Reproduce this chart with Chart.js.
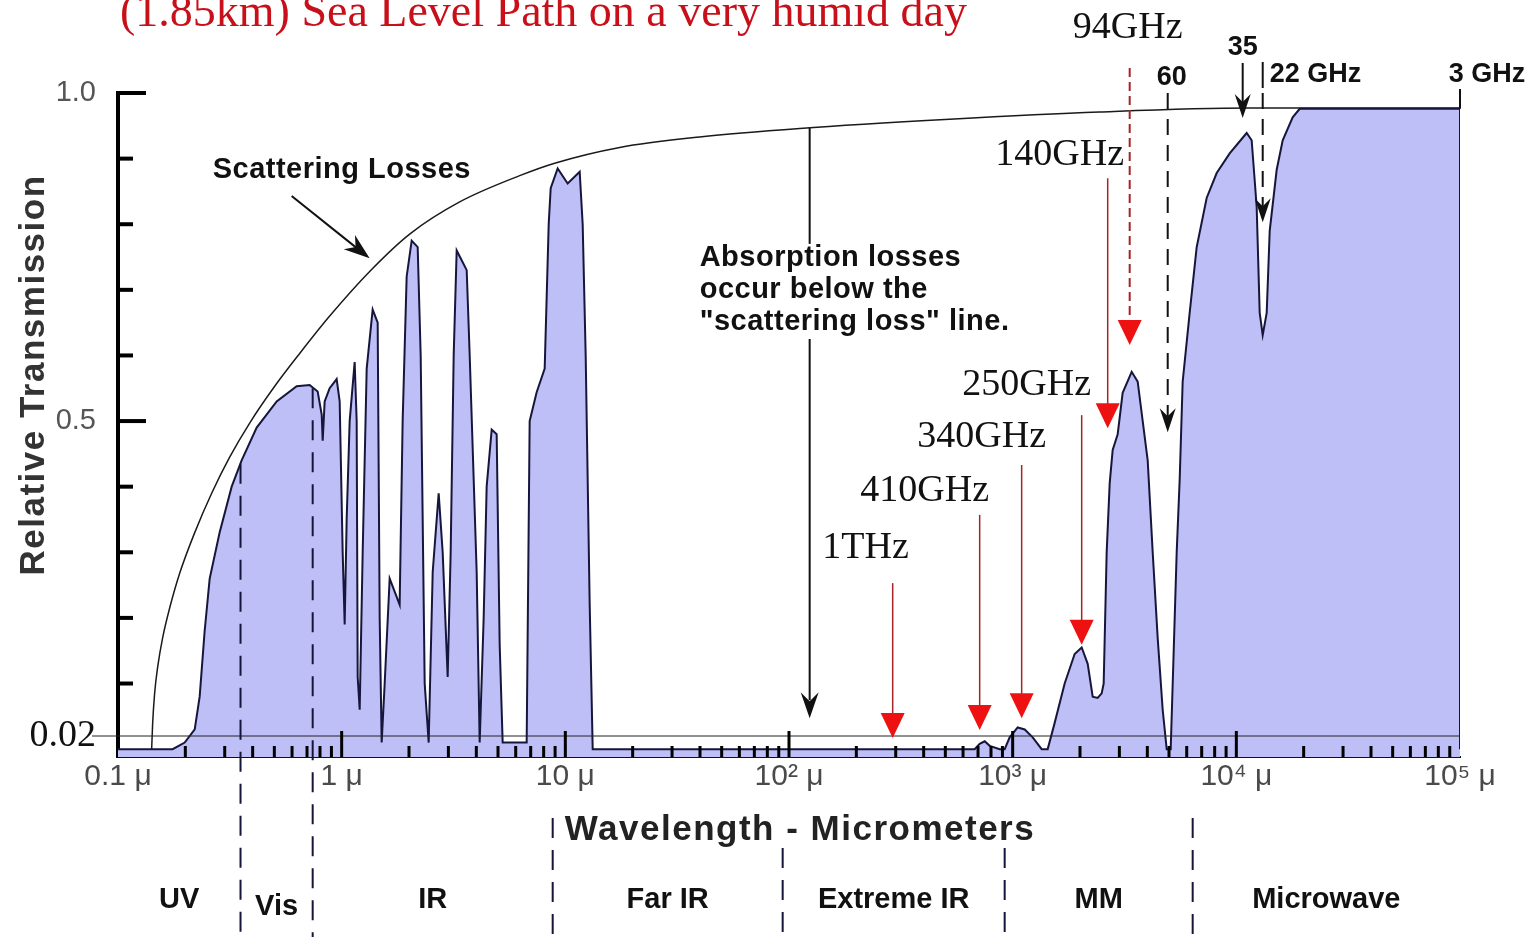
<!DOCTYPE html>
<html>
<head>
<meta charset="utf-8">
<title>Transmision atmosferica</title>
<script src="https://cdn.jsdelivr.net/npm/chart.js@4.4.1/dist/chart.umd.min.js"></script>
<style>
    html, body { margin: 0; padding: 0; background: #fff; }
    #wrap { width: 1535px; height: 937px; position: relative; }
</style>
</head>
<body>
<div id="wrap"><canvas id="grafico"></canvas></div>
<script>
// transmission curve (wavelength in micrometers, relative transmission)
const transWavelength = [
    0.1, 0.1755, 0.1987, 0.2203, 0.2318, 0.244, 0.257, 0.2847, 0.3223, 0.3571,
    0.4169, 0.5122, 0.6292, 0.7192, 0.781, 0.8141, 0.8225, 0.8395, 0.8838, 0.9497,
    0.9797, 1.0104, 1.0314, 1.0528, 1.0859, 1.1431, 1.167, 1.1791, 1.2038, 1.2415,
    1.2938, 1.376, 1.4488, 1.4789, 1.5096, 1.5571, 1.6392, 1.7258, 1.8164, 1.8735,
    1.9523, 2.0558, 2.1871, 2.2557, 2.3505, 2.4491, 2.5527, 2.7146, 2.829, 2.9781,
    3.0716, 3.1681, 3.2674, 3.4396, 3.6225, 3.736, 4.0143, 4.14, 4.314, 4.449,
    4.686, 4.9317, 5.0863, 5.2458, 6.7159, 6.9265, 7.4439, 8.0854, 8.4256, 8.6003,
    9.2397, 10.243, 11.592, 11.955, 12.331, 12.851, 13.254, 676.2, 712, 749.8,
    789.5, 874.8, 921, 969.6, 1053, 1132, 1229, 1348, 1434, 1541,
    1708, 1893, 2035, 2165, 2279, 2399, 2500, 2552, 2632, 2715,
    2800, 2948, 3103, 3405, 3622, 3814, 4015, 4227, 4449, 4685,
    4883, 5088, 5248, 5412, 5580, 5755, 6185, 6648, 7368, 8169,
    9338, 11124, 11709, 12080, 12330, 12720, 13120, 13670, 14100, 15150,
    16120, 17860, 19200, 100000, 100000
]
const transValue = [
    0, 0, 0.01, 0.03, 0.08, 0.18, 0.26, 0.33, 0.40, 0.44,
    0.49, 0.53, 0.553, 0.555, 0.545, 0.51, 0.47, 0.53, 0.55, 0.564,
    0.53, 0.30, 0.19, 0.35, 0.50, 0.59, 0.50, 0.11, 0.06, 0.30,
    0.58, 0.67, 0.65, 0.20, 0.01, 0.10, 0.26, 0.24, 0.22, 0.50,
    0.72, 0.775, 0.765, 0.60, 0.10, 0.01, 0.27, 0.39, 0.30, 0.11,
    0.30, 0.60, 0.76, 0.745, 0.73, 0.60, 0.27, 0.01, 0.20, 0.40,
    0.487, 0.48, 0.16, 0.01, 0.01, 0.50, 0.544, 0.58, 0.80, 0.855,
    0.885, 0.862, 0.88, 0.80, 0.60, 0.22, 0, 0, 0.008, 0.012,
    0.005, 0, 0, 0.018, 0.033, 0.03, 0.018, 0, 0, 0.04,
    0.10, 0.145, 0.155, 0.13, 0.08, 0.078, 0.085, 0.10, 0.30, 0.405,
    0.456, 0.48, 0.543, 0.575, 0.56, 0.50, 0.44, 0.30, 0.17, 0.06,
    0, 0, 0.15, 0.30, 0.41, 0.56, 0.665, 0.765, 0.84, 0.878,
    0.908, 0.939, 0.928, 0.867, 0.826, 0.665, 0.631, 0.665, 0.79, 0.883,
    0.928, 0.963, 0.976, 0.976, 0
]

// scattering loss line
const scatterWavelength = [
    0.1414, 0.1429, 0.1458, 0.1504, 0.1584, 0.1702, 0.1887, 0.2203, 0.2623, 0.3157,
    0.3879, 0.5018, 0.649, 0.8838, 1.334, 2.014, 3.37, 6.25, 8.962, 17.5,
    39.87, 111.6, 522.6, 2449, 11470, 100000
]
const scatterValue = [
    0, 0.04, 0.085, 0.125, 0.17, 0.215, 0.268, 0.33, 0.39, 0.445,
    0.497, 0.553, 0.603, 0.66, 0.728, 0.785, 0.834, 0.874, 0.893, 0.917,
    0.933, 0.946, 0.96, 0.971, 0.977, 0.977
]

// axes
const xTickValues = [0.1, 1, 10, 100, 1000, 10000, 100000]
const xTickLabels = ['0.1 μ', '1 μ', '10 μ', '10² μ', '10³ μ', '10⁴ μ', '10⁵ μ']
const yLabelValues = [0.02, 0.5, 1.0]
const yLabelTexts = ['0.02', '0.5', '1.0']
const yTickValues = [0.1, 0.2, 0.3, 0.4, 0.5, 0.6, 0.7, 0.8, 0.9, 1.0]

// spectral bands
const bandEdges = [0.353, 0.742, 8.78, 93.7, 921, 6380]
const bandNames = ['UV', 'Vis', 'IR', 'Far IR', 'Extreme IR', 'MM', 'Microwave']

// red frequency markers
const markerLabels = ['1THz', '410GHz', '340GHz', '250GHz', '140GHz', '94GHz']
const markerWavelength = [290.8, 712, 1097, 2035, 2660, 3336]
const markerTop = [0.253, 0.357, 0.433, 0.509, 0.870, 1.038]
const markerTip = [0.017, 0.029, 0.047, 0.159, 0.489, 0.616]
const markerLabelWavelength = [220, 404, 727, 1155, 1623, 3268]
const markerLabelValue = [0.306, 0.393, 0.476, 0.555, 0.905, 1.099]

// black band markers at the top
const lineLabels = ['60', '35', '22 GHz', '3 GHz']
const lineWavelength = [4934, 10676, 13120, 100000]
const lineTip = [0.483, 0.962, 0.803, 0.976]

function seg(ctx, x1, y1, x2, y2) {
    ctx.beginPath()
    ctx.moveTo(x1, y1)
    ctx.lineTo(x2, y2)
    ctx.stroke()
}

function punta(ctx, fx, fy, tx, ty, len, half, notch) {
    const ang = Math.atan2(ty - fy, tx - fx)
    ctx.save()
    ctx.translate(tx, ty)
    ctx.rotate(ang)
    ctx.beginPath()
    ctx.moveTo(0, 0)
    ctx.lineTo(-len, -half)
    ctx.lineTo(-len + notch, 0)
    ctx.lineTo(-len, half)
    ctx.closePath()
    ctx.fill()
    ctx.restore()
}

const anotaciones = {
    id: 'anotaciones',
    afterDraw(chart) {
        const ctx = chart.ctx
        const a = chart.chartArea
        const sx = chart.scales.x
        const sy = chart.scales.y
        const X = v => sx.getPixelForValue(v)
        const Y = v => sy.getPixelForValue(v)
        ctx.save()

        // 0.02 line
        ctx.strokeStyle = '#222'
        ctx.lineWidth = 1
        seg(ctx, 92, Y(0.02), a.right, Y(0.02))

        // y ticks pointing inward
        ctx.strokeStyle = '#000'
        ctx.lineWidth = 4
        yTickValues.forEach(v => {
            seg(ctx, a.left, Y(v), a.left + (v === 0.5 || v === 1 ? 28 : 15), Y(v))
        })

        // x minor ticks
        ctx.lineWidth = 3
        for (let d = -1; d < 5; d++) {
            for (let k = 1; k < 10; k++) {
                const v = k * Math.pow(10, d)
                if (v <= 0.1001 || v >= 99999) continue
                seg(ctx, X(v), a.bottom, X(v), a.bottom - (k === 1 ? 26 : 11))
            }
        }

        // band separators
        ctx.setLineDash([20, 12])
        ctx.lineWidth = 2
        ctx.strokeStyle = '#15153a'
        const sepStart = [Y(0.435), Y(0.55), 818, 848, 848, 818]
        bandEdges.forEach((w, i) => seg(ctx, X(w), sepStart[i], X(w), 937))
        ctx.setLineDash([])

        // band names
        ctx.fillStyle = '#111'
        ctx.font = 'bold 29px "Liberation Sans", Arial, sans-serif'
        ctx.textAlign = 'center'
        ctx.textBaseline = 'middle'
        const edges = [sx.min, ...bandEdges, sx.max]
        bandNames.forEach((n, i) => {
            const c = Math.sqrt(edges[i] * edges[i + 1])
            ctx.fillText(n, X(c), n === 'Vis' ? 907 : 900)
        })

        // axis titles
        ctx.font = 'bold 35px "Liberation Sans", Arial, sans-serif'
        ctx.letterSpacing = '1.5px'
        ctx.fillStyle = '#222'
        ctx.fillText('Wavelength - Micrometers', 800, 830)
        ctx.save()
        ctx.translate(34, 375)
        ctx.rotate(-Math.PI / 2)
        ctx.font = 'bold 35px "Liberation Sans", Arial, sans-serif'
        ctx.fillStyle = '#333'
        ctx.fillText('Relative Transmission', 0, 0)
        ctx.restore()
        ctx.letterSpacing = '0px'

        // title
        ctx.font = '46px "Liberation Serif", "Times New Roman", serif'
        ctx.fillStyle = '#c8101a'
        ctx.textAlign = 'left'
        ctx.textBaseline = 'alphabetic'
        ctx.fillText('(1.85km) Sea Level Path on a very humid day', 120, 26)

        // scattering losses note
        ctx.fillStyle = '#111'
        ctx.strokeStyle = '#111'
        ctx.font = 'bold 29px "Liberation Sans", Arial, sans-serif'
        ctx.letterSpacing = '0.5px'
        ctx.textBaseline = 'middle'
        ctx.fillText('Scattering Losses', X(0.265), Y(0.883))
        ctx.lineWidth = 2
        const ax1 = X(0.5976), ay1 = Y(0.843), ax2 = X(1.334), ay2 = Y(0.748)
        seg(ctx, ax1, ay1, ax2 - 10, ay2 - 8)
        punta(ctx, ax1, ay1, ax2, ay2, 26, 9, 8)

        // absorption note
        ctx.fillText('Absorption losses', X(39.87), Y(0.748))
        ctx.fillText('occur below the', X(39.87), Y(0.700))
        ctx.fillText('"scattering loss" line.', X(39.87), Y(0.651))
        ctx.letterSpacing = '0px'
        seg(ctx, X(123.7), Y(0.947), X(123.7), Y(0.77))
        seg(ctx, X(123.7), Y(0.625), X(123.7), Y(0.047) - 18)
        punta(ctx, X(123.7), 0, X(123.7), Y(0.047), 26, 9, 9)

        // red markers
        ctx.font = '38px "Liberation Serif", "Times New Roman", serif'
        ctx.textAlign = 'center'
        markerLabels.forEach((txt, i) => {
            const px = X(markerWavelength[i])
            const tip = Y(markerTip[i])
            ctx.strokeStyle = '#a82424'
            ctx.lineWidth = i === 5 ? 2 : 1.5
            if (i === 5) ctx.setLineDash([9, 5])
            seg(ctx, px, Y(markerTop[i]), px, tip - 20)
            ctx.setLineDash([])
            ctx.fillStyle = '#ee1111'
            punta(ctx, px, 0, px, tip, 25, 12, 0)
            ctx.fillStyle = '#111'
            ctx.fillText(txt, X(markerLabelWavelength[i]), Y(markerLabelValue[i]))
        })

        // black markers at the top
        ctx.font = 'bold 27px "Liberation Sans", Arial, sans-serif'
        ctx.fillStyle = '#111'
        ctx.strokeStyle = '#111'
        lineLabels.forEach((txt, i) => {
            const px = X(lineWavelength[i])
            const tip = Y(lineTip[i])
            ctx.lineWidth = 2
            if (txt === '3 GHz') {
                seg(ctx, px, a.top - 4, px, tip)
                ctx.textAlign = 'center'
                ctx.fillText(txt, px + 27, a.top - 18)
                return
            }
            if (txt === '35') {
                seg(ctx, px, a.top - 30, px, tip - 16)
                ctx.textAlign = 'center'
                ctx.fillText(txt, px, a.top - 45)
            } else {
                ctx.setLineDash([16, 10])
                seg(ctx, px, a.top, px, tip - 16)
                ctx.setLineDash([])
                if (txt === '60') {
                    ctx.textAlign = 'center'
                    ctx.fillText(txt, px + 4, a.top - 15)
                } else {
                    seg(ctx, px, a.top - 31, px, a.top - 5)
                    ctx.textAlign = 'left'
                    ctx.fillText(txt, px + 7, a.top - 18)
                }
            }
            punta(ctx, px, 0, px, tip, 24, 8, 8)
        })

        ctx.restore()
    }
}

function crearGrafico() {
    const ctx = document.getElementById('grafico')
    const puntosTrans = transWavelength.map((w, i) => ({ x: w, y: transValue[i] }))
    const puntosScatter = scatterWavelength.map((w, i) => ({ x: w, y: scatterValue[i] }))

    new Chart(ctx, {
        type: 'line',
        data: {
            datasets: [{
                label: 'Transmission',
                data: puntosTrans,
                borderColor: '#16163c',
                borderWidth: 2,
                backgroundColor: '#bfbff7',
                fill: 'start',
                pointRadius: 0,
                tension: 0
            }, {
                label: 'Scattering losses',
                data: puntosScatter,
                borderColor: '#1a1a1a',
                borderWidth: 1.5,
                fill: false,
                pointRadius: 0,
                cubicInterpolationMode: 'monotone'
            }]
        },
        options: {
            responsive: true,
            maintainAspectRatio: false,
            animation: false,
            layout: { padding: { top: 93, right: 75, left: 0, bottom: 0 } },
            plugins: {
                legend: { display: false },
                tooltip: { enabled: false }
            },
            scales: {
                x: {
                    type: 'logarithmic',
                    min: 0.1,
                    max: 100000,
                    afterFit(s) { s.height = 180 },
                    afterBuildTicks(s) { s.ticks = xTickValues.map(v => ({ value: v })) },
                    ticks: {
                        callback: (v, i) => xTickLabels[i],
                        font: { family: '"Liberation Sans", Arial, sans-serif', size: 30 },
                        color: '#4a4a4a',
                        padding: 2,
                        maxRotation: 0,
                        autoSkip: false
                    },
                    grid: { display: false, drawTicks: false },
                    border: { display: true, color: '#111', width: 2 }
                },
                y: {
                    min: -0.012,
                    max: 1,
                    afterFit(s) { s.width = 118 },
                    afterBuildTicks(s) { s.ticks = yLabelValues.map(v => ({ value: v })) },
                    ticks: {
                        callback: (v, i) => yLabelTexts[i],
                        font: c => c.index === 0
                            ? { family: '"Liberation Serif", serif', size: 38 }
                            : { family: '"Liberation Sans", Arial, sans-serif', size: 29 },
                        color: c => c.index === 0 ? '#111' : '#555',
                        padding: 22,
                        autoSkip: false
                    },
                    grid: { display: false, drawTicks: false },
                    border: { display: true, color: '#000', width: 4 }
                }
            }
        },
        plugins: [anotaciones]
    })
}

crearGrafico()
</script>
</body>
</html>
